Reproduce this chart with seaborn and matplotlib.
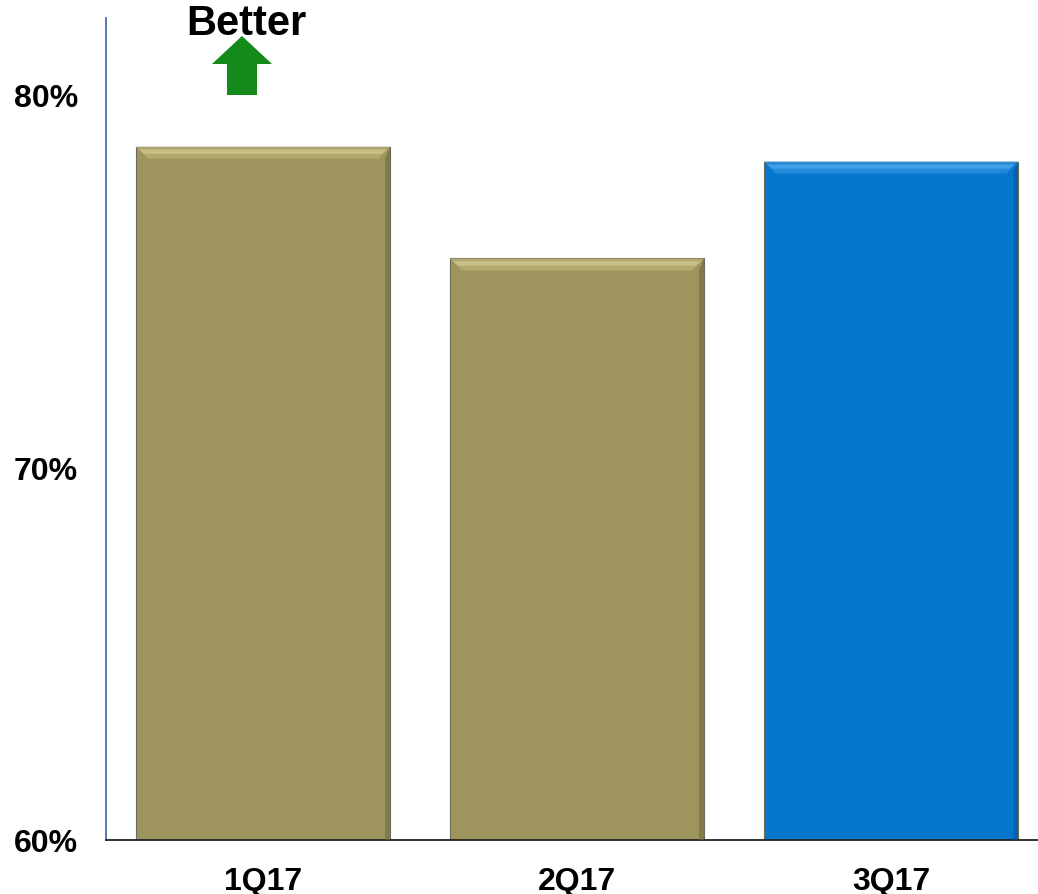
import matplotlib
matplotlib.use("Agg")
import matplotlib.pyplot as plt
from matplotlib.patches import Polygon, FancyArrow
import seaborn as sns
import pandas as pd

quarters = ["1Q17", "2Q17", "3Q17"]
values = [78.6, 75.6, 78.2]
bar_colors = ["#9E955E", "#9E955E", "#0677CC"]
y_ticks = [60, 70, 80]
y_tick_labels = ["60%", "70%", "80%"]

sns.set_theme(style="white")
plt.rcParams["font.family"] = ["Liberation Sans", "DejaVu Sans"]

df = pd.DataFrame({"quarter": quarters, "value": values})

fig = plt.figure(figsize=(10.38, 8.95), dpi=100)
ax = fig.add_axes([106 / 1038, 54 / 895, 932 / 1038, 822 / 895])

sns.barplot(data=df, x="quarter", y="value", hue="quarter",
            palette=bar_colors, width=0.81, legend=False, ax=ax,
            edgecolor="#6b6b5a", linewidth=0.8, saturation=1)

ax.set_ylim(60, 82.05)
ax.set_xlim(-0.5, 2.5 - 10 / 314)

# bevel on each bar: light top edge, shaded right edge
for patch, col in zip(ax.patches, bar_colors):
    x0, y0 = patch.get_x(), patch.get_y()
    w, h = patch.get_width(), patch.get_height()
    x1, y1 = x0 + w, y0 + h
    bw = 0.038  # bevel width in category units
    bh = 0.32   # bevel height in data units
    olive = col == "#9E955E"
    light = "#D3CA93" if olive else "#4AABF0"
    mid = "#B9AF75" if olive else "#2A90DC"
    dark = "#6E6840" if olive else "#04559A"
    ax.add_patch(Polygon([(x0, y1), (x1, y1), (x1 - bw, y1 - bh), (x0 + bw, y1 - bh)],
                         closed=True, facecolor=mid, edgecolor="none", alpha=0.8, zorder=3))
    ax.add_patch(Polygon([(x0 + bw * 0.3, y1 - bh * 0.25), (x1 - bw * 0.3, y1 - bh * 0.25),
                          (x1 - bw * 0.7, y1 - bh * 0.6), (x0 + bw * 0.7, y1 - bh * 0.6)],
                         closed=True, facecolor=light, edgecolor="none", alpha=0.7, zorder=3))
    ax.add_patch(Polygon([(x1, y1), (x1, y0), (x1 - bw * 0.4, y0), (x1 - bw * 0.4, y1 - bh)],
                         closed=True, facecolor=dark, edgecolor="none", alpha=0.6, zorder=3))

ax.set_yticks(y_ticks)
ax.set_yticklabels(y_tick_labels, fontsize=23, fontweight="bold", color="black")
ax.set_xticks(range(len(quarters)))
ax.set_xticklabels(quarters, fontsize=23, fontweight="bold", color="black")
ax.tick_params(axis="both", length=0)
ax.tick_params(axis="y", pad=20)
ax.tick_params(axis="x", pad=19)
ax.set_xlabel("")
ax.set_ylabel("")

for s in ["top", "right"]:
    ax.spines[s].set_visible(False)
ax.spines["left"].set_color("#4A6EA6")
ax.spines["left"].set_linewidth(1.3)
ax.spines["bottom"].set_color("#222222")
ax.spines["bottom"].set_linewidth(1.3)

# "Better" marker with upward arrow
fig.text(246 / 1038, 1 - 24 / 895, "Better", ha="center", va="center",
         fontsize=30, fontweight="bold", color="black")
arrow = FancyArrow(242 / 1038, 1 - 96 / 895, 0, 59 / 895,
                   width=30 / 1038, head_width=60 / 1038, head_length=28 / 895,
                   length_includes_head=True, transform=fig.transFigure,
                   facecolor="#138A1A", edgecolor="none")
fig.add_artist(arrow)

fig.savefig("out.png", dpi=100)
